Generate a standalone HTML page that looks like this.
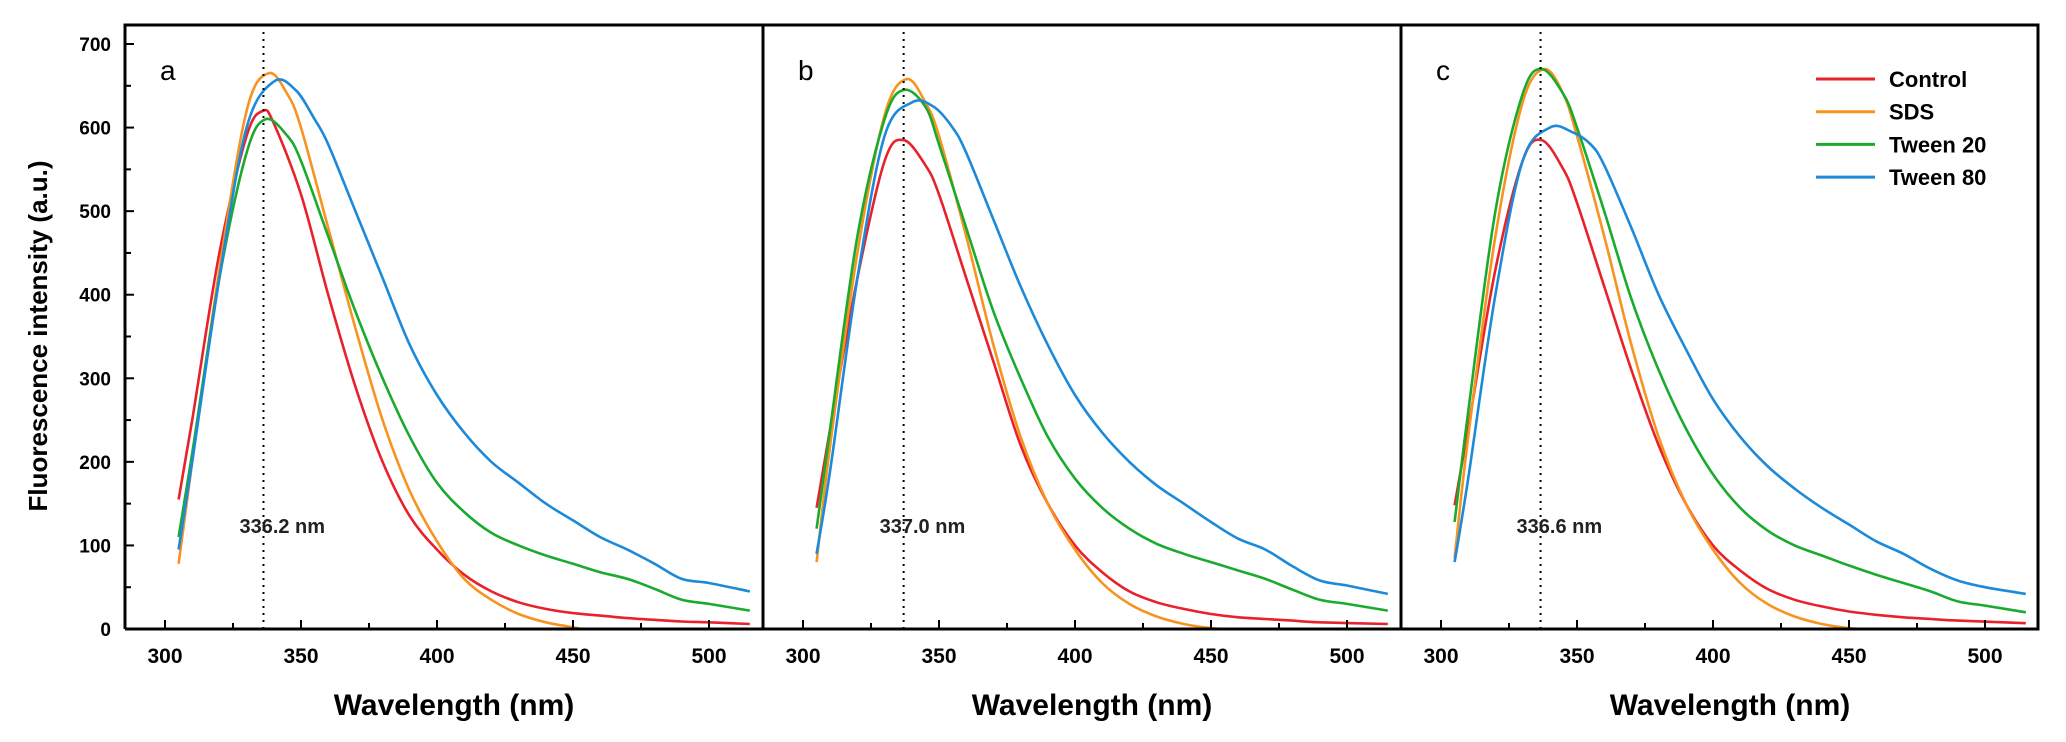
<!DOCTYPE html>
<html><head><meta charset="utf-8"><style>
html,body{margin:0;padding:0;background:#fff}
svg{display:block}
text{font-family:"Liberation Sans",Arial,sans-serif}
</style></head><body>
<svg id="s" width="2066" height="742" viewBox="0 0 2066 742" xmlns="http://www.w3.org/2000/svg">
<g id="curves" fill="none" stroke-width="2.6" stroke-linejoin="round"></g>
<g id="axes" stroke="#000" fill="none"></g>
<g id="txt"></g>
</svg>
<script>
var NS="http://www.w3.org/2000/svg";
function el(p,t,a,txt){var e=document.createElementNS(NS,t);for(var k in a)e.setAttribute(k,a[k]);if(txt!=null)e.textContent=txt;p.appendChild(e);return e;}
var C=document.getElementById('curves'),A=document.getElementById('axes'),T=document.getElementById('txt');
var Y0=629,SY=0.8357,SX=2.72;
function Y(v){return Y0-SY*v;}
var col={r:'#e8212a',o:'#f7931e',g:'#1aab2e',b:'#1c8ad8'};
var D=[
{x0:165,peak:336.2,lab:'336.2 nm',letter:'a',
r:[[305,155],[310,250],[320,450],[330,590],[336,620],[340,605],[350,520],[360,400],[370,290],[380,200],[390,135],[400,95],[410,65],[420,45],[430,32],[440,24],[450,19],[460,16],[470,13],[480,11],[490,9],[500,8],[515,6]],
o:[[305,78],[310,200],[320,430],[330,620],[338,665],[345,640],[350,600],[360,480],[370,360],[380,250],[390,165],[400,105],[410,60],[420,35],[430,18],[440,8],[450,2],[453,0]],
g:[[305,110],[310,210],[320,420],[330,570],[337,610],[345,590],[350,560],[360,470],[370,380],[380,300],[390,230],[400,175],[410,140],[420,115],[430,100],[440,88],[450,78],[460,68],[470,60],[480,48],[490,35],[500,30],[515,22]],
b:[[305,95],[310,200],[320,420],[330,600],[340,655],[348,645],[355,610],[360,580],[370,500],[380,420],[390,340],[400,280],[410,235],[420,200],[430,175],[440,150],[450,130],[460,110],[470,95],[480,78],[490,60],[500,55],[515,45]]},
{x0:803,peak:337.0,lab:'337.0 nm',letter:'b',
r:[[305,145],[310,240],[320,420],[330,560],[337,585],[345,555],[350,520],[360,420],[370,320],[380,220],[390,150],[400,100],[410,68],[420,45],[430,32],[440,24],[450,18],[460,14],[470,12],[480,10],[490,8],[515,6]],
o:[[305,80],[310,220],[320,450],[330,615],[338,658],[345,630],[350,590],[360,470],[370,340],[380,230],[390,150],[400,95],[410,55],[420,30],[430,15],[440,6],[450,1],[455,0]],
g:[[305,120],[310,240],[320,470],[330,610],[337,645],[345,625],[350,580],[360,480],[370,380],[380,300],[390,230],[400,180],[410,145],[420,120],[430,102],[440,90],[450,80],[460,70],[470,60],[480,47],[490,35],[500,30],[515,22]],
b:[[305,90],[310,190],[320,420],[330,590],[340,630],[348,625],[355,600],[360,570],[370,490],[380,410],[390,340],[400,280],[410,235],[420,200],[430,172],[440,150],[450,128],[460,108],[470,95],[480,75],[490,58],[500,52],[515,42]]},
{x0:1441,peak:336.6,lab:'336.6 nm',letter:'c',
r:[[305,148],[310,240],[320,430],[330,560],[337,585],[345,550],[350,510],[360,410],[370,310],[380,220],[390,150],[400,100],[410,70],[420,48],[430,35],[440,27],[450,21],[460,17],[470,14],[480,12],[490,10],[515,7]],
o:[[305,85],[310,230],[320,470],[330,630],[338,670],[345,640],[350,590],[360,470],[370,340],[380,230],[390,150],[400,95],[410,55],[420,30],[430,15],[440,6],[450,1],[455,0]],
g:[[305,128],[310,260],[320,500],[330,640],[337,670],[345,640],[350,600],[360,500],[370,395],[380,310],[390,240],[400,185],[410,145],[420,118],[430,100],[440,88],[450,76],[460,65],[470,55],[480,45],[490,33],[500,28],[515,20]],
b:[[305,80],[310,180],[320,400],[330,560],[340,600],[348,595],[355,580],[360,555],[370,480],[380,400],[390,335],[400,275],[410,230],[420,195],[430,168],[440,145],[450,125],[460,105],[470,90],[480,72],[490,58],[500,50],[515,42]]}
];
function path(pts){
  var d='M'+pts[0][0].toFixed(1)+','+pts[0][1].toFixed(1);
  for(var i=0;i<pts.length-1;i++){
    var p0=pts[i-1]||pts[i],p1=pts[i],p2=pts[i+1],p3=pts[i+2]||p2;
    var c1x=p1[0]+(p2[0]-p0[0])/6,c1y=p1[1]+(p2[1]-p0[1])/6;
    var c2x=p2[0]-(p3[0]-p1[0])/6,c2y=p2[1]-(p3[1]-p1[1])/6;
    d+=' C'+c1x.toFixed(1)+','+c1y.toFixed(1)+' '+c2x.toFixed(1)+','+c2y.toFixed(1)+' '+p2[0].toFixed(1)+','+p2[1].toFixed(1);
  }
  return d;
}
D.forEach(function(P,k){
  var X=function(w){return P.x0+(w-300)*SX;};
  ['r','o','g','b'].forEach(function(s){
    el(C,'path',{d:path(P[s].map(function(q){return [X(q[0]),Y(q[1])];})),stroke:col[s]});
  });
  // dotted peak line
  el(A,'line',{x1:X(P.peak),y1:32,x2:X(P.peak),y2:Y0,'stroke-width':2,'stroke-dasharray':'2,5'});
  // x ticks
  for(var w=300;w<=500;w+=25){var major=(w%50==0);el(A,'line',{x1:X(w),y1:Y0,x2:X(w),y2:Y0-(major?9:6),'stroke-width':2});
    if(major)el(T,'text',{x:X(w),y:663,'font-size':21,'font-weight':'bold','text-anchor':'middle'},String(w));}
  var left=125+k*638;
  el(T,'text',{x:left+329,y:715,'font-size':30,'font-weight':'bold','text-anchor':'middle'},'Wavelength (nm)');
  el(T,'text',{x:left+35,y:80,'font-size':28},P.letter);
  el(T,'text',{x:X(P.peak)-24,y:533,'font-size':20,'font-weight':'bold','fill':'#222'},P.lab);
});
// frame
el(A,'path',{d:'M125,629 L125,25 L2038,25 L2038,629 L125,629 M763,25 L763,629 M1401,25 L1401,629','stroke-width':3});
// y ticks panel a
for(var v=0;v<=700;v+=50){var mj=(v%100==0);el(A,'line',{x1:125,y1:Y(v),x2:125+(mj?9:6),y2:Y(v),'stroke-width':2});
  if(mj)el(T,'text',{x:111,y:Y(v)+7,'font-size':19,'font-weight':'bold','text-anchor':'end'},String(v));}
el(T,'text',{x:0,y:0,'font-size':26,'font-weight':'bold','text-anchor':'middle',transform:'translate(47,336) rotate(-90)'},'Fluorescence intensity (a.u.)');
// legend
var L=[['r','Control'],['o','SDS'],['g','Tween 20'],['b','Tween 80']];
L.forEach(function(l,i){var y=79+i*32.7;
  el(A,'line',{x1:1816,y1:y,x2:1875,y2:y,stroke:col[l[0]],'stroke-width':3});
  el(T,'text',{x:1889,y:y+8,'font-size':22,'font-weight':'bold'},l[1]);});
</script>
</body></html>
